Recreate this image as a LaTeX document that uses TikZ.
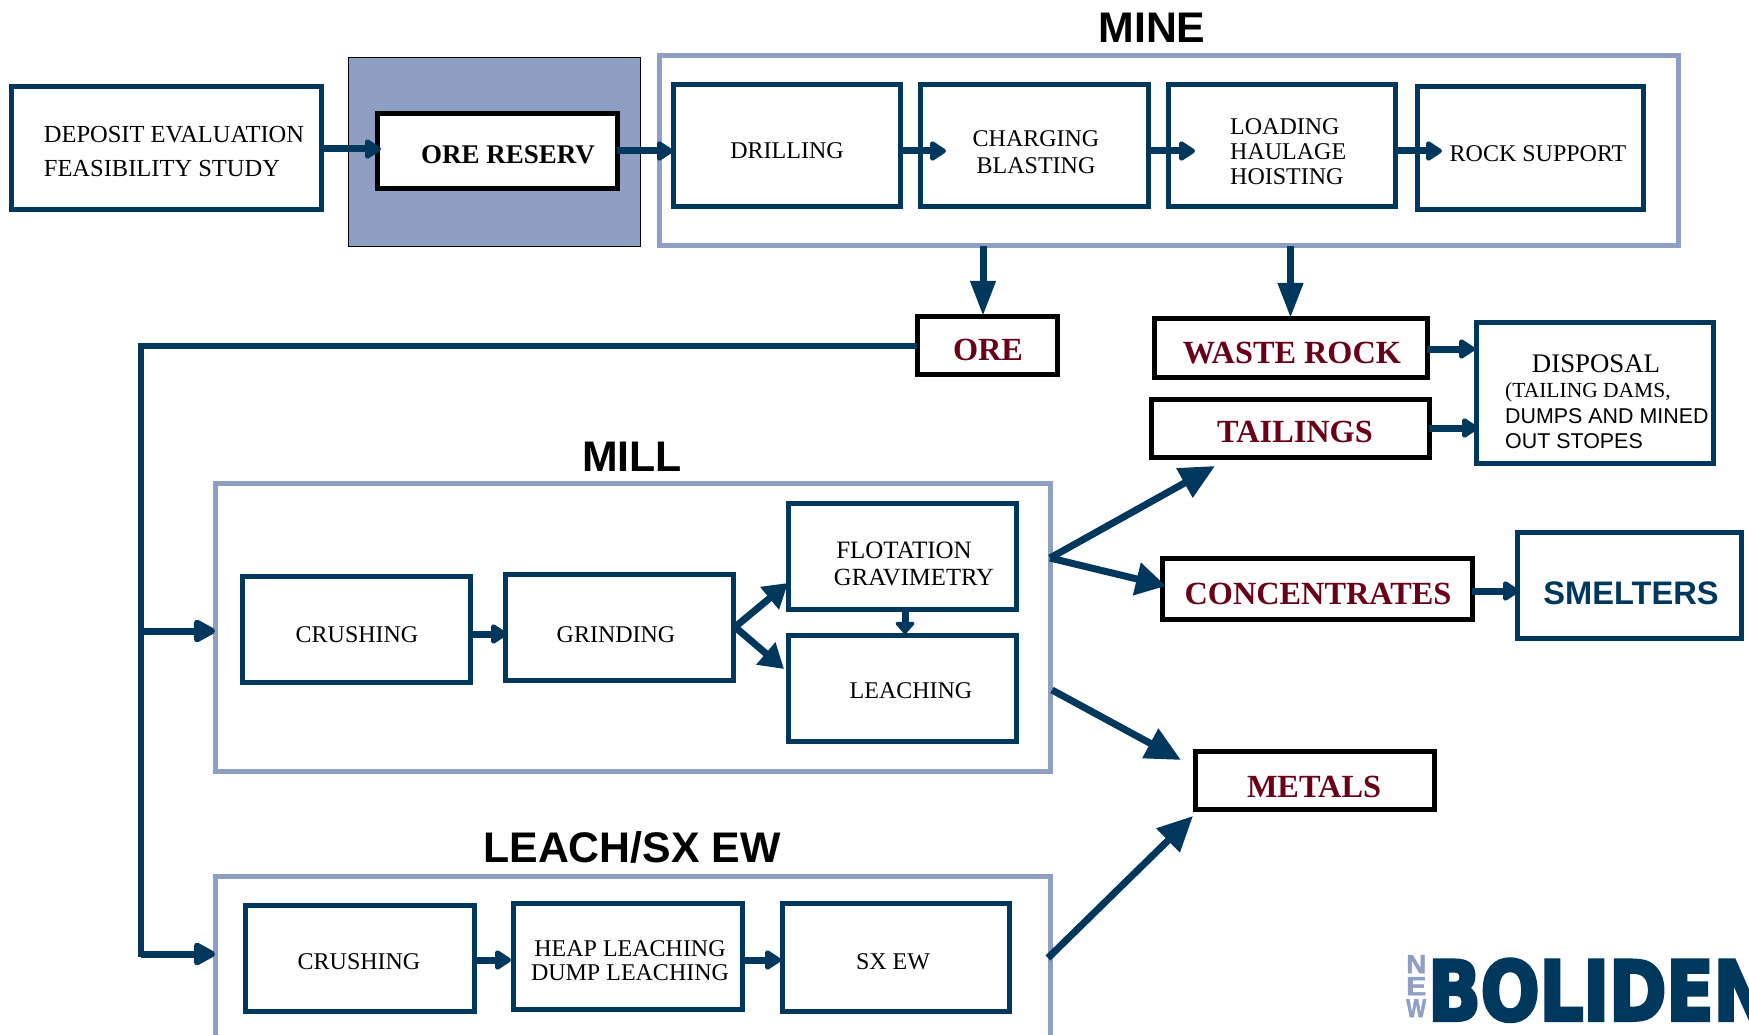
\documentclass[tikz,border=0pt]{standalone}
\usepackage{fontspec}
\usetikzlibrary{arrows.meta,calc}
\setmainfont{Liberation Serif}
\setsansfont{Liberation Sans}
\newfontfamily\logofont[FakeBold=4.5]{DejaVu Sans Bold}
\newfontfamily\logonew[FakeBold=2]{Liberation Sans Bold}
\definecolor{navy}{HTML}{00375C}
\definecolor{steel}{HTML}{8E9FC3}
\definecolor{maroon}{HTML}{6A0018}
\tikzset{
  x=1pt,y=-1pt,
  stepbox/.style={draw=navy,line width=5pt,fill=white,inner sep=0,outer sep=0},
  blackbox/.style={draw=black,line width=5pt,fill=white,inner sep=0,outer sep=0},
  groupbox/.style={draw=steel,line width=5pt,fill=white,inner sep=0,outer sep=0},
  backbox/.style={draw=black,line width=0.8pt,fill=steel,inner sep=0,outer sep=0},
  lab/.style={inner sep=0,align=center,font=\fontsize{24}{27}\selectfont,text=black},
  leftlab/.style={lab,align=left},
  red/.style={inner sep=0,font=\fontsize{32.3}{34}\bfseries\selectfont,text=maroon},
  head/.style={inner sep=0,font=\fontsize{42.8}{45}\bfseries\sffamily\selectfont,text=black},
  arr/.style={draw=navy,line width=7pt,-{Triangle[length=18pt,width=22pt,round]}},
  bigarr/.style={draw=navy,line width=7pt,-{Triangle[length=35pt,width=32pt]}},
  trunk/.style={draw=navy,line width=6pt},
}
\newcommand{\bx}[6]{\node[#6,anchor=north west,minimum width=#4pt-#2pt,minimum height=#5pt-#3pt] (#1) at (#2,#3) {};}
\begin{document}
\begin{tikzpicture}
\useasboundingbox (0,0) rectangle (1749,1035);
% containers
\bx{back}{348}{57}{640}{246}{backbox}
\bx{mine}{659}{56}{1678}{246}{groupbox}
\bx{mill}{215}{483}{1050}{771}{groupbox}
\begin{scope}
\clip (0,0) rectangle (1749,1035);
\bx{leach}{215}{876}{1050}{1060}{groupbox}
\end{scope}
% boxes
\bx{dep}{11}{87}{321}{210}{stepbox}
\bx{res}{377}{114}{617}{189}{blackbox}
\bx{dri}{673}{85}{900}{207}{stepbox}
\bx{cha}{920}{85}{1148}{207}{stepbox}
\bx{loa}{1168}{85}{1395}{207}{stepbox}
\bx{roc}{1417}{87}{1643}{210}{stepbox}
\bx{ore}{917}{316}{1057}{374}{blackbox}
\bx{was}{1154}{318}{1427}{377}{blackbox}
\bx{tai}{1151}{399}{1429}{457}{blackbox}
\bx{dis}{1476}{322}{1713}{463}{stepbox}
\bx{cru}{242}{576}{470}{682}{stepbox}
\bx{gri}{505}{574}{733}{680}{stepbox}
\bx{flo}{788}{503}{1016}{609}{stepbox}
\bx{lea}{788}{635}{1016}{741}{stepbox}
\bx{con}{1162}{558}{1472}{619}{blackbox}
\bx{sme}{1517}{532}{1741}{638}{stepbox}
\bx{met}{1195}{751}{1434}{809}{blackbox}
\bx{crb}{245}{905}{474}{1011}{stepbox}
\bx{hea}{513}{903}{742}{1009}{stepbox}
\bx{sxe}{782}{903}{1009}{1011}{stepbox}
% texts
\node[head] (t-mine) at (1152,28) {MINE};
\node[head] (t-mill) at (632,457) {MILL};
\node[head] (t-leach) at (632,847) {LEACH/SX EW};
\node[leftlab,font=\fontsize{24.5}{34}\selectfont] (t-dep) at (174,152) {DEPOSIT EVALUATION\\FEASIBILITY STUDY};
\node[lab,font=\fontsize{27}{30}\bfseries\selectfont] (t-res) at (508,155) {ORE RESERV};
\node[lab] (t-dri) at (787,151) {DRILLING};
\node[lab] (t-cha) at (1036,152) {CHARGING\\BLASTING};
\node[leftlab,font=\fontsize{24}{25}\selectfont,anchor=west] (t-loa) at (1230,152) {LOADING\\HAULAGE\\HOISTING};
\node[lab] (t-roc) at (1538,154) {ROCK SUPPORT};
\node[red] (t-ore) at (988,350) {ORE};
\node[red] (t-was) at (1292,353) {WASTE ROCK};
\node[red] (t-tai) at (1295,432) {TAILINGS};
\node[lab,font=\fontsize{26.8}{28}\selectfont] (t-dis) at (1596,364) {DISPOSAL};
\node[lab,anchor=west,font=\fontsize{21.5}{23}\selectfont] (t-dis1) at (1505,392) {(TAILING DAMS,};
\node[lab,anchor=west,font=\fontsize{21.4}{25}\sffamily\selectfont,align=left] (t-dis2) at (1505,429) {DUMPS AND MINED\\OUT STOPES};
\node[lab] (t-cru) at (357,635) {CRUSHING};
\node[lab] (t-gri) at (616,635) {GRINDING};
\node[lab,font=\fontsize{25}{28}\selectfont] (t-flo1) at (904,550) {FLOTATION};
\node[lab,font=\fontsize{24.7}{28}\selectfont] (t-flo2) at (914,578) {GRAVIMETRY};
\node[lab] (t-lea) at (911,691) {LEACHING};
\node[red] (t-con) at (1318,594) {CONCENTRATES};
\node[lab,font=\fontsize{32.6}{35}\bfseries\sffamily\selectfont,text=navy] (t-sme) at (1631,593) {SMELTERS};
\node[red] (t-met) at (1314,787) {METALS};
\node[lab] (t-crb) at (359,962) {CRUSHING};
\node[lab,font=\fontsize{24}{24}\selectfont] (t-hea) at (630,961) {HEAP LEACHING\\DUMP LEACHING};
\node[lab] (t-sxe) at (893,962) {SX EW};
% free ends
\coordinate (b1) at (141,346);
\coordinate (b2) at (141,957);
\coordinate (b3) at (141,631);
\coordinate (b4) at (141,954);
\coordinate (mu) at (1050,558);
\coordinate (ml) at (1052,690);
\coordinate (lo) at (1048,958);
\coordinate (go) at (735,627);
% connectors
\draw[trunk] (ore.west |- 0,346) -- (b1) -- (b2);
\draw[arr,-{Triangle[length=25pt,width=25pt,round]}] (b3) -- (b3 -| mill.west);
\draw[arr,-{Triangle[length=25pt,width=25pt,round]}] (b4) -- (b4 -| leach.west);
\draw[arr] (321,149) -- (381,149);
\draw[arr] (617,151) -- (673,151);
\draw[arr] (900,151) -- (946,151);
\draw[arr] (1148,151) -- (1195,151);
\draw[arr] (1395,151) -- (1442,151);
\draw[arr,-{Triangle[length=35pt,width=24pt]}] (983,246) -- (983,316);
\draw[arr,-{Triangle[length=35pt,width=24pt]}] (was.north |- mine.south) -- (was.north);
\draw[arr] (1427,349) -- (1475,349);
\draw[arr] (1429,428) -- (1478,428);
\draw[arr] (470,634) -- (507,634);
\draw[arr,-{Triangle[length=13pt,width=22pt,round]}] (905,609) -- (905,634);
\draw[arr] (1472,591) -- (1519,591);
\draw[arr] (474,960) -- (511,960);
\draw[arr] (742,960) -- (781,960);
\draw[bigarr,-{Triangle[length=24pt,width=28pt]}] (go) -- (788,583);
\draw[bigarr,-{Triangle[length=24pt,width=28pt]}] (go) -- (784,669);
\draw[bigarr] (mu) -- (1215,466);
\draw[bigarr,-{Triangle[length=30pt,width=32pt]}] (mu) -- (1166,586);
\draw[bigarr] (ml) -- (1181,760);
\draw[bigarr] (lo) -- (1193,816);
% logo
\begin{scope}
\clip (0,0) rectangle (1749,1035);
\node[inner sep=0,anchor=north west,text=navy] (logo) at (1428,959) {\resizebox{343pt}{61pt}{\logofont BOLIDEN}};
\node[inner sep=0,anchor=north west,text=steel,align=center,font=\logonew\fontsize{6}{22}\selectfont] (logo-n) at (1406,955) {\resizebox{20pt}{18pt}{N}\\\resizebox{20pt}{18pt}{E}\\\resizebox{20pt}{18pt}{W}};
\end{scope}
\end{tikzpicture}
\end{document}
